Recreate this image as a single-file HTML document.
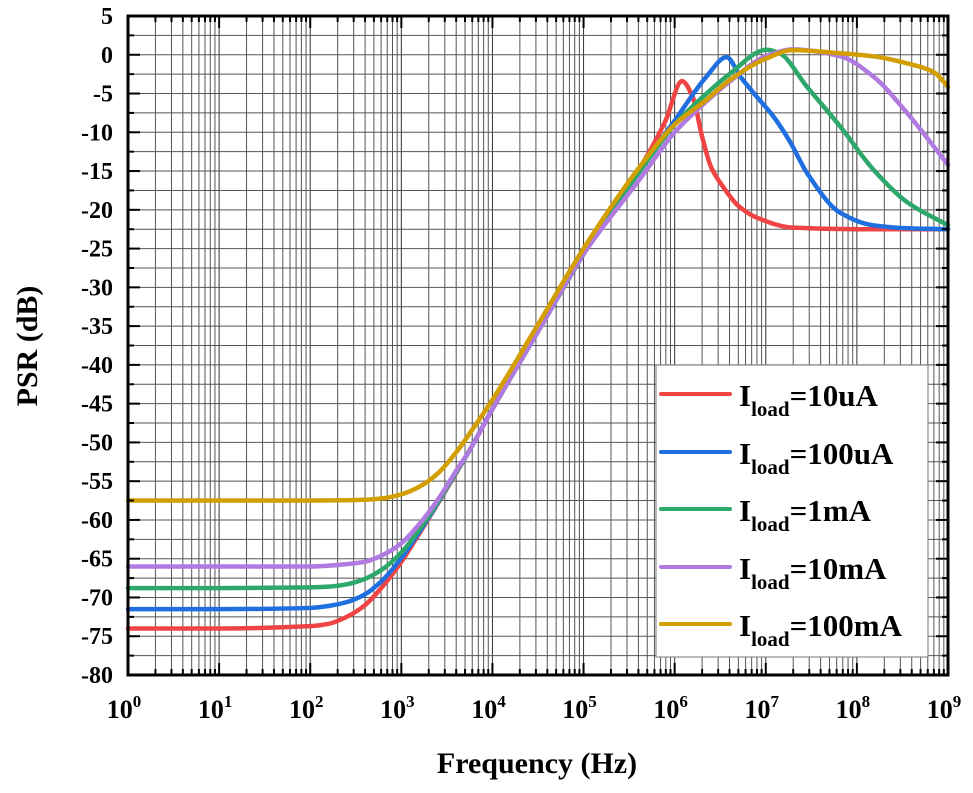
<!DOCTYPE html>
<html><head><meta charset="utf-8"><style>
html,body{margin:0;padding:0;background:#fff;}
svg{display:block;font-family:"Liberation Serif",serif;font-weight:bold;}
</style></head><body>
<svg id="chart" width="973" height="793" viewBox="0 0 973 793" xmlns="http://www.w3.org/2000/svg">
<g id="grid"></g>
<g id="series"></g>
<g id="axes"></g>
<g id="legend"></g>
<text x="537" y="773" font-size="30" text-anchor="middle">Frequency (Hz)</text>
<text transform="translate(37,346) rotate(-90)" font-size="30" text-anchor="middle">PSR (dB)</text>
</svg>
<script>
const xDecades=[0,1,2,3,4,5,6,7,8,9];
const yTicks=[5,0,-5,-10,-15,-20,-25,-30,-35,-40,-45,-50,-55,-60,-65,-70,-75,-80];
const legendLabels=["10uA","100uA","1mA","10mA","100mA"];
const redL=[0,1,2,2.2,2.4,2.6,2.8,3,3.2,3.4,3.6,3.75,4,4.5,5,5.62,5.9,6.08,6.2,6.3,6.4,6.53,6.7,6.9,7.3,8,9];
const redDB=[-74,-74,-73.7,-73.4,-72.5,-71,-68.5,-65.4,-61.7,-57.9,-54,-51,-45.7,-35.7,-25.7,-14.6,-8.5,-3.4,-5.5,-10.5,-14.5,-17,-19.5,-21,-22.3,-22.5,-22.5];
const blueL=[0,1,2,2.2,2.4,2.6,2.8,3,3.2,3.4,3.6,3.75,4,4.5,5,5.62,6,6.35,6.57,6.72,6.9,7.08,7.27,7.45,7.82,8.18,8.6,9];
const blueDB=[-71.5,-71.5,-71.35,-71.1,-70.6,-69.6,-67.7,-64.9,-61.5,-57.8,-53.9,-51,-45.7,-35.7,-25.7,-14.6,-8.5,-2.8,-0.3,-2.8,-5.4,-7.9,-11.3,-15.2,-20.4,-22,-22.4,-22.5];
const greenL=[0,1,2,2.2,2.4,2.6,2.8,3,3.2,3.4,3.6,3.75,4,4.5,5,5.62,6,6.35,6.6,7.01,7.15,7.45,7.82,8.18,8.55,9];
const greenDB=[-68.8,-68.8,-68.7,-68.6,-68.3,-67.6,-66.3,-64.2,-61.2,-57.7,-53.9,-51,-45.7,-35.7,-25.7,-15,-9,-5,-2.5,0.65,0.2,-4.1,-9.3,-14.8,-19,-22];
const purpleL=[0,1,2,2.2,2.4,2.6,2.8,3,3.2,3.4,3.6,3.75,4,4.5,5,5.62,6,6.35,6.6,7,7.3,7.82,8.18,8.55,9];
const purpleDB=[-66,-66,-66,-65.9,-65.7,-65.4,-64.5,-63,-60.5,-57.4,-53.7,-51,-45.7,-35.7,-25.7,-16,-10,-6,-3.5,-0.2,0.7,-0.2,-2.8,-7.5,-14.2];
const goldL=[0,1,2,2.4,2.6,2.8,3,3.2,3.4,3.6,3.8,4,4.5,5,5.62,6,6.35,6.6,7,7.3,7.82,8.18,8.55,8.84,9];
const goldDB=[-57.5,-57.5,-57.5,-57.46,-57.4,-57.2,-56.7,-55.7,-54,-51.3,-48,-44.5,-34.8,-25,-14.4,-9,-5.8,-3.3,-0.5,0.6,0.2,-0.2,-1.1,-2.2,-4.1];

const NS="http://www.w3.org/2000/svg";
const X0=128,X1=948,Y0=16,Y1=675,YMAX=5,YMIN=-80;
const xs=l=>X0+(l-0)/(9-0)*(X1-X0);
const ys=v=>Y0+(YMAX-v)/(YMAX-YMIN)*(Y1-Y0);
function mk(tag,attrs,parent){const e=document.createElementNS(NS,tag);for(const k in attrs)e.setAttribute(k,attrs[k]);parent.appendChild(e);return e;}
const grid=document.getElementById('grid'),axes=document.getElementById('axes'),ser=document.getElementById('series'),leg=document.getElementById('legend');
for(let d=0;d<9;d++){for(let m=1;m<=9;m++){const x=xs(d+Math.log10(m));
 if(m>1){const g=mk('line',{x1:x,x2:x,y1:Y0,y2:Y1,stroke:'#555','stroke-width':1},grid);
  }
 const len=m===1?12:6;
 mk('line',{x1:x,x2:x,y1:Y1,y2:Y1-len,stroke:'#000','stroke-width':2},axes);
 mk('line',{x1:x,x2:x,y1:Y0,y2:Y0+len,stroke:'#000','stroke-width':2},axes);}}
xDecades.forEach(d=>{const x=xs(d);
 const g=mk('line',{x1:x,x2:x,y1:Y0,y2:Y1,stroke:'#333','stroke-width':1},grid);
 
 const t=mk('text',{x:x-4,y:718,'font-size':26,'text-anchor':'middle'},axes);
 
 t.textContent='10';const s=mk('tspan',{dy:-11,'font-size':17},t);s.textContent=String(d);});
for(let v=YMAX;v>=YMIN;v-=2.5){const y=ys(v);
 const g=mk('line',{x1:X0,x2:X1,y1:y,y2:y,stroke:'#555','stroke-width':1},grid);
 
 const len=(v%5===0)?12:6;
 mk('line',{x1:X0,x2:X0+len,y1:y,y2:y,stroke:'#000','stroke-width':2},axes);
 mk('line',{x1:X1,x2:X1-len,y1:y,y2:y,stroke:'#000','stroke-width':2},axes);}
yTicks.forEach(v=>{const t=mk('text',{x:113,y:ys(v)+8,'font-size':24,'text-anchor':'end'},axes);
 
 t.textContent=String(v);});
const fr=mk('rect',{x:X0,y:Y0,width:X1-X0,height:Y1-Y0,fill:'none',stroke:'#000','stroke-width':3},axes);

function pathFrom(L,D){const x=L.map(xs),y=D.map(ys),n=x.length;
 const dl=[],m=new Array(n);
 for(let i=0;i<n-1;i++)dl.push((y[i+1]-y[i])/(x[i+1]-x[i]));
 m[0]=dl[0];m[n-1]=dl[n-2];
 for(let i=1;i<n-1;i++){if(dl[i-1]*dl[i]<=0)m[i]=0;else{const w1=2*(x[i+1]-x[i])+(x[i]-x[i-1]),w2=(x[i+1]-x[i])+2*(x[i]-x[i-1]);m[i]=(w1+w2)/(w1/dl[i-1]+w2/dl[i]);}}
 let d='M'+x[0]+','+y[0];
 for(let i=0;i<n-1;i++){const h=(x[i+1]-x[i])/3;
  d+=` C${x[i]+h},${y[i]+m[i]*h} ${x[i+1]-h},${y[i+1]-m[i+1]*h} ${x[i+1]},${y[i+1]}`;}
 return d;}
const series=[[redL,redDB,'#f04444','series-10ua'],[blueL,blueDB,'#1f6fe0','series-100ua'],[greenL,greenDB,'#2ea86a','series-1ma'],[purpleL,purpleDB,'#b07ae0','series-10ma'],[goldL,goldDB,'#d29e00','series-100ma']];
series.forEach(s=>{const p=mk('path',{d:pathFrom(s[0],s[1]),fill:'none',stroke:s[2],'stroke-width':4.5,'stroke-linejoin':'round','stroke-linecap':'round'},ser);
 });
const lb=mk('rect',{x:656,y:365,width:272,height:292,fill:'#fff',stroke:'#777','stroke-width':1},leg);

const ly=[394,452,509,567,624];
legendLabels.forEach((lab,i)=>{
 const ln=mk('line',{x1:661,x2:730,y1:ly[i],y2:ly[i],stroke:series[i][2],'stroke-width':4,'stroke-linecap':'round'},leg);
 
 const t=mk('text',{x:739,y:ly[i]+12,'font-size':31},leg);
 
 t.textContent='I';const s=mk('tspan',{dy:10,'font-size':21},t);s.textContent='load';
 const r=mk('tspan',{dy:-10},t);r.textContent='='+lab;});
</script>
</body></html>
